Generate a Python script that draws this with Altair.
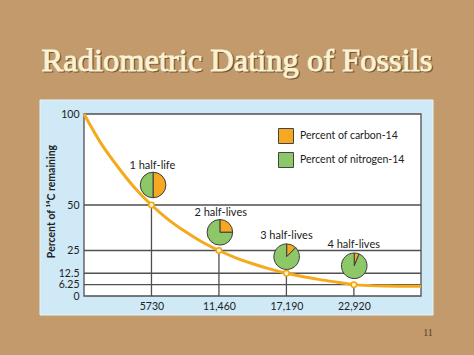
import altair as alt
import pandas as pd

# ---- data ----
years = [0, 1432, 2865, 4298, 5730, 7162, 8595, 10028, 11460, 12892, 14325,
         15758, 17190, 18622, 20055, 21488, 22920, 24352, 25785, 27218, 28620]
percent = [100, 84, 71, 59.5, 50, 42, 35.4, 29.7, 25, 21, 17.7,
           14.9, 12.5, 10.6, 9.0, 7.6, 6.25, 5.7, 5.5, 5.4, 5.4]

half_life_years = [5730, 11460, 17190, 22920]
half_life_pct = [50, 25, 12.5, 6.25]

grid_pct = [50, 25, 12.5, 6.25]
y_ticks = [0, 6.25, 12.5, 25, 50, 100]

pie_labels = ["1 half-life", "2 half-lives", "3 half-lives", "4 half-lives"]
pie_x = [5866, 11540, 17210, 22950]
pie_y = [61, 35, 21.6, 16.6]
label_x = [5809, 11610, 17190, 22905]
label_y = [71.6, 45.8, 33, 28]
carbon_fraction = [0.5, 0.25, 0.125, 0.0625]

parts = ["Percent of carbon-14", "Percent of nitrogen-14"]
part_colors = ["#f6a823", "#8dc768"]

title_text = "Radiometric Dating of Fossils"
slide_no = "11"

# ---- tables ----
curve = pd.DataFrame({"t": years, "p": percent})
pts = pd.DataFrame({"t": half_life_years, "p": half_life_pct})
grid = pd.DataFrame({"p": grid_pct})
TAU = 6.283185307179586
pie_rows = []
for cx, cy, f in zip(pie_x, pie_y, carbon_fraction):
    pie_rows.append({"cx": cx, "cy": cy, "t0": 0.0, "t1": TAU * f, "part": parts[0]})
    pie_rows.append({"cx": cx, "cy": cy, "t0": TAU * f, "t1": TAU, "part": parts[1]})
pies = pd.DataFrame(pie_rows)
labels = pd.DataFrame({"x": label_x, "y": label_y, "txt": pie_labels})
one = pd.DataFrame({"a": [0]})

W, H = 337, 182
XMAX = 28620
xs = alt.Scale(domain=[0, XMAX], nice=False, zero=True)
ys = alt.Scale(domain=[0, 100], nice=False)

x_axis = alt.Axis(values=half_life_years, title=None, ticks=False, domain=False, grid=False,
                  labelPadding=5, labelFontSize=10.5, labelColor="#222", zindex=2,
                  labelOverlap=False,
                  labelExpr="datum.value == 5730 ? '5730' : format(datum.value, ',')")
y_axis = alt.Axis(values=y_ticks, format=".2~f", ticks=False, domain=False, grid=False,
                  labelOverlap=False, labelPadding=5, labelFontSize=10.5, labelColor="#222",
                  zindex=2,
                  title="Percent of \u00b9\u2074C remaining", titleFontSize=10.5,
                  titleFontWeight="bold", titleColor="#222", titleX=-33, titleY=87,
                  titleBaseline="middle", titleAlign="center")


def X(f):
    return alt.X(f, scale=xs, axis=x_axis)


def Y(f):
    return alt.Y(f, scale=ys, axis=y_axis)


panel = alt.Chart(one).mark_rect(fill="#cfe9f7", stroke="#e6f4fb", strokeWidth=1).encode(
    x=alt.value(-44), x2=alt.value(349), y=alt.value(-14), y2=alt.value(201))
plotbg = alt.Chart(one).mark_rect(fill="white", stroke="#505050", strokeWidth=1.3).encode(
    x=alt.value(0), x2=alt.value(W), y=alt.value(0), y2=alt.value(H))

hgrid = alt.Chart(grid).mark_rule(color="#505050", strokeWidth=1.3).encode(y=Y("p:Q"))

vrules = alt.Chart(pts).mark_rule(color="#505050", strokeWidth=1.3).encode(
    x=X("t:Q"), y=Y("p:Q"), y2=alt.datum(0))

line = alt.Chart(curve).mark_line(color="#f4aa1c", strokeWidth=3, interpolate="monotone").encode(
    x=X("t:Q"), y=Y("p:Q"))

points = alt.Chart(pts).mark_point(filled=True, fill="#fff5c8", stroke="#f2a515",
                                    strokeWidth=1.5, size=30, opacity=1).encode(
    x=X("t:Q"), y=Y("p:Q"))

arcs = alt.Chart(pies).mark_arc(outerRadius=12.8, stroke="#3d3d3d", strokeWidth=1).encode(
    x=X("cx:Q"), y=Y("cy:Q"),
    theta=alt.Theta("t0:Q", scale=None), theta2="t1:Q",
    color=alt.Color("part:N", scale=alt.Scale(domain=parts, range=part_colors),
                    legend=alt.Legend(orient="none", legendX=194, legendY=14, title=None,
                                      padding=0, symbolType="square", symbolSize=225,
                                      symbolStrokeColor="#444", symbolStrokeWidth=1,
                                      symbolOpacity=1, labelFontSize=10.5, labelColor="#222",
                                      labelFont="Lato", labelOffset=6, rowPadding=4)))

pie_text = alt.Chart(labels).mark_text(fontSize=11, color="#222", baseline="middle").encode(
    x=X("x:Q"), y=Y("y:Q"), text="txt:N")

tdf = pd.DataFrame({"txt": [title_text]})
title_shadow = alt.Chart(tdf).mark_text(font="Liberation Serif", fontSize=32.5,
                                        color="#3b2814", opacity=0.6, align="center",
                                        baseline="alphabetic", stroke="#3b2814",
                                        strokeWidth=0.8).encode(
    x=alt.value(154.3), y=alt.value(-41.7), text="txt:N")
title = alt.Chart(tdf).mark_text(font="Liberation Serif", fontSize=32.5,
                                 color="#fbf2d2", align="center", baseline="alphabetic",
                                 stroke="#fbf2d2", strokeWidth=0.9).encode(
    x=alt.value(153), y=alt.value(-43), text="txt:N")

ndf = pd.DataFrame({"txt": [slide_no]})
number = alt.Chart(ndf).mark_text(font="Liberation Serif", fontSize=10, color="#5a3c22",
                                  align="center", baseline="alphabetic").encode(
    x=alt.value(344), y=alt.value(222), text="txt:N")

chart = alt.layer(panel, plotbg, hgrid, vrules, line, points, arcs, pie_text,
                  title_shadow, title, number).properties(
    width=W, height=H,
    autosize=alt.AutoSizeParams(type="none"),
    padding={"left": 84, "top": 114, "right": 474 - 84 - W, "bottom": 355 - 114 - H},
    background="#c29a6c",
).configure(font="Lato").configure_view(stroke=None)

chart.save("out.html", embed_options={"renderer": "svg", "actions": False})
